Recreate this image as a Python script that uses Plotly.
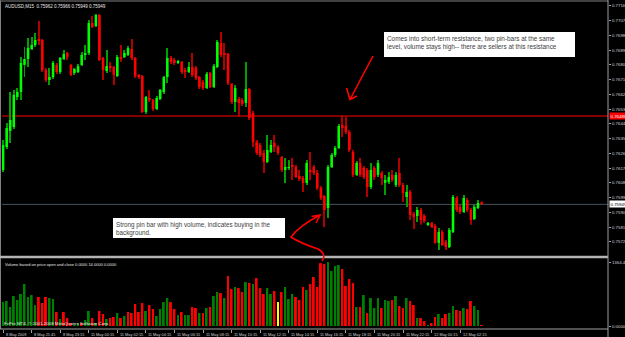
import plotly.graph_objects as go

W, H = 625, 337

title_text = "AUDUSD,M15  0.75962 0.75966 0.75949 0.75949"
volume_title = "Volume based on price open and close 0.0000 14.0000 0.0000"
copyright_text = "FxPro MT4, © 2001-2008 MetaQuotes Software Corp."

opens = [
    0.76159, 0.76299, 0.76397, 0.76421, 0.76604, 0.76635, 0.76800, 0.76836, 0.76897, 0.76922,
    0.76958, 0.76952, 0.76769, 0.76708, 0.76726, 0.76800, 0.76757, 0.76836, 0.76873, 0.76800,
    0.76751, 0.76757, 0.76800, 0.76861, 0.76873, 0.77056, 0.77037, 0.77105, 0.76842, 0.76763,
    0.76793, 0.76787, 0.76732, 0.76848, 0.76848, 0.76861, 0.76897, 0.76842, 0.76739, 0.76732,
    0.76513, 0.76598, 0.76586, 0.76531, 0.76592, 0.76635, 0.76726, 0.76842, 0.76830, 0.76812,
    0.76818, 0.76769, 0.76757, 0.76787, 0.76781, 0.76726, 0.76696, 0.76659, 0.76751, 0.76665,
    0.76787, 0.76934, 0.76873, 0.76867, 0.76684, 0.76574, 0.76592, 0.76586, 0.76568, 0.76653,
    0.76507, 0.76330, 0.76312, 0.76263, 0.76208, 0.76269, 0.76324, 0.76299, 0.76238, 0.76159,
    0.76171, 0.76190, 0.76177, 0.76122, 0.76110, 0.76080, 0.76159, 0.76177, 0.76141, 0.76049,
    0.76000, 0.75927, 0.76177, 0.76251, 0.76293, 0.76434, 0.76427, 0.76391, 0.76269, 0.76129,
    0.76202, 0.76171, 0.76159, 0.76055, 0.76171, 0.76129, 0.76141, 0.76080, 0.76086, 0.76129,
    0.76068, 0.76141, 0.76068, 0.75994, 0.76025, 0.75891, 0.75878, 0.75915, 0.75878, 0.75824,
    0.75836, 0.75817, 0.75714, 0.75781, 0.75720, 0.75689, 0.75781, 0.75988, 0.75933, 0.75903,
    0.75976, 0.75915, 0.75860, 0.75927, 0.75962,
]
highs = [
    0.76342, 0.76446, 0.76635, 0.76647, 0.76659, 0.76848, 0.76909, 0.76964, 0.76970, 0.76995,
    0.77068, 0.76958, 0.76781, 0.76781, 0.76824, 0.76812, 0.76848, 0.76891, 0.76879, 0.76806,
    0.76781, 0.76806, 0.76879, 0.76922, 0.77074, 0.77098, 0.77111, 0.77111, 0.76848, 0.76891,
    0.76818, 0.76793, 0.76861, 0.76922, 0.76891, 0.76915, 0.76958, 0.76848, 0.76745, 0.76739,
    0.76610, 0.76647, 0.76592, 0.76610, 0.76653, 0.76732, 0.76903, 0.76854, 0.76842, 0.76830,
    0.76824, 0.76781, 0.76818, 0.76873, 0.76793, 0.76732, 0.76708, 0.76757, 0.76757, 0.76806,
    0.76952, 0.77001, 0.76934, 0.76873, 0.76690, 0.76678, 0.76604, 0.76598, 0.76818, 0.76659,
    0.76519, 0.76342, 0.76324, 0.76281, 0.76373, 0.76342, 0.76373, 0.76312, 0.76244, 0.76232,
    0.76220, 0.76232, 0.76190, 0.76159, 0.76122, 0.76220, 0.76269, 0.76190, 0.76159, 0.76061,
    0.76007, 0.76190, 0.76263, 0.76305, 0.76440, 0.76495, 0.76482, 0.76403, 0.76281, 0.76214,
    0.76232, 0.76183, 0.76171, 0.76202, 0.76183, 0.76220, 0.76153, 0.76129, 0.76147, 0.76159,
    0.76147, 0.76232, 0.76080, 0.76068, 0.76037, 0.75903, 0.75933, 0.75927, 0.75891, 0.75842,
    0.75842, 0.75830, 0.75805, 0.75793, 0.75732, 0.75805, 0.76007, 0.76000, 0.75946, 0.76007,
    0.75988, 0.75927, 0.75946, 0.75976, 0.75966,
]
lows = [
    0.76147, 0.76287, 0.76324, 0.76409, 0.76586, 0.76586, 0.76726, 0.76787, 0.76891, 0.76909,
    0.76922, 0.76757, 0.76696, 0.76678, 0.76714, 0.76745, 0.76745, 0.76830, 0.76830, 0.76732,
    0.76739, 0.76751, 0.76793, 0.76830, 0.76861, 0.77025, 0.77031, 0.76824, 0.76708, 0.76751,
    0.76757, 0.76678, 0.76726, 0.76818, 0.76842, 0.76854, 0.76830, 0.76720, 0.76714, 0.76507,
    0.76501, 0.76574, 0.76519, 0.76525, 0.76586, 0.76623, 0.76690, 0.76806, 0.76800, 0.76806,
    0.76745, 0.76720, 0.76751, 0.76726, 0.76708, 0.76653, 0.76647, 0.76653, 0.76659, 0.76659,
    0.76781, 0.76848, 0.76769, 0.76678, 0.76562, 0.76513, 0.76482, 0.76549, 0.76543, 0.76464,
    0.76299, 0.76251, 0.76238, 0.76141, 0.76202, 0.76263, 0.76269, 0.76251, 0.76147, 0.76080,
    0.76159, 0.76098, 0.76110, 0.76092, 0.76025, 0.76068, 0.76098, 0.76129, 0.76037, 0.75976,
    0.75811, 0.75866, 0.76171, 0.76238, 0.76287, 0.76360, 0.76379, 0.76269, 0.76116, 0.76122,
    0.76116, 0.76104, 0.75994, 0.76043, 0.76098, 0.76116, 0.76068, 0.76007, 0.76074, 0.76086,
    0.76055, 0.76055, 0.75964, 0.75933, 0.75854, 0.75799, 0.75842, 0.75824, 0.75836, 0.75817,
    0.75805, 0.75708, 0.75671, 0.75695, 0.75671, 0.75683, 0.75775, 0.75903, 0.75891, 0.75897,
    0.75903, 0.75824, 0.75854, 0.75921, 0.75949,
]
closes = [
    0.76311, 0.76415, 0.76464, 0.76617, 0.76635, 0.76812, 0.76836, 0.76903, 0.76922, 0.76952,
    0.76946, 0.76769, 0.76708, 0.76726, 0.76812, 0.76757, 0.76842, 0.76867, 0.76848, 0.76739,
    0.76775, 0.76793, 0.76861, 0.76873, 0.77056, 0.77031, 0.77105, 0.76830, 0.76769, 0.76793,
    0.76787, 0.76739, 0.76848, 0.76842, 0.76873, 0.76903, 0.76842, 0.76732, 0.76726, 0.76513,
    0.76604, 0.76586, 0.76531, 0.76598, 0.76647, 0.76726, 0.76842, 0.76818, 0.76812, 0.76824,
    0.76757, 0.76757, 0.76787, 0.76739, 0.76720, 0.76665, 0.76659, 0.76745, 0.76665, 0.76793,
    0.76940, 0.76861, 0.76861, 0.76690, 0.76574, 0.76659, 0.76568, 0.76562, 0.76653, 0.76476,
    0.76330, 0.76263, 0.76251, 0.76208, 0.76281, 0.76312, 0.76299, 0.76263, 0.76159, 0.76177,
    0.76177, 0.76177, 0.76116, 0.76104, 0.76080, 0.76202, 0.76147, 0.76141, 0.76049, 0.75988,
    0.75915, 0.76177, 0.76251, 0.76293, 0.76427, 0.76415, 0.76391, 0.76281, 0.76129, 0.76202,
    0.76129, 0.76116, 0.76055, 0.76159, 0.76116, 0.76202, 0.76110, 0.76098, 0.76116, 0.76098,
    0.76129, 0.76068, 0.76019, 0.76025, 0.75885, 0.75872, 0.75915, 0.75854, 0.75848, 0.75836,
    0.75811, 0.75714, 0.75781, 0.75702, 0.75689, 0.75793, 0.75994, 0.75915, 0.75903, 0.75988,
    0.75915, 0.75854, 0.75933, 0.75958, 0.75949,
]
volumes = [
    511, 533, 405, 639, 554, 682, 895, 618, 660, 447,
    618, 490, 618, 596, 575, 298, 149, 298, 170, 64,
    21, 64, 64, 128, 320, 170, 64, 320, 256, 149,
    170, 192, 277, 170, 213, 298, 277, 469, 298, 490,
    320, 447, 362, 213, 362, 511, 596, 511, 362, 234,
    298, 234, 234, 405, 383, 277, 277, 383, 405, 639,
    724, 703, 596, 1065, 788, 831, 809, 724, 937, 916,
    895, 1022, 809, 682, 809, 682, 746, 511, 724, 831,
    575, 682, 618, 554, 831, 767, 895, 1044, 831, 1342,
    1321, 1364, 1172, 1278, 1300, 1214, 852, 1001, 916, 405,
    405, 660, 277, 596, 383, 596, 383, 554, 533, 554,
    639, 426, 383, 596, 533, 447, 170, 170, 107, 21,
    64, 192, 256, 170, 256, 277, 426, 341, 320, 383,
    362, 533, 426, 341, 21,
]
# U = close above open, D = close below open, N = unchanged (yellow)
volume_dir = list(
    "UUUUUUUUUU" "DDDUUDUDDD" "UUDUUDUDDU" "DDUDUDDDDD" "UDDUUUUDDU"
    "DUUDDUDUDU" "UDUDDUDDUD" "UDDDUUDNDU" "UUDDDUDDDD" "DUUUUDDDDU"
    "DUDUUUDUUD" "UDDUDDUDDU" "DDUDDUUDDU" "DDUUD"
)
time_labels = [
    "8 May 2009", "8 May 21:45", "8 May 23:15", "11 May 00:15", "11 May 02:15",
    "11 May 04:15", "11 May 06:15", "11 May 08:15", "11 May 10:15", "11 May 12:15",
    "11 May 14:15", "11 May 16:15", "11 May 18:15", "11 May 20:15", "11 May 22:15",
    "12 May 00:15", "12 May 02:15",
]
time_label_bars = [0, 8, 16, 24, 32, 40, 48, 56, 64, 72, 80, 88, 96, 104, 112, 120, 128]
price_ticks = [
    0.77160, 0.77070, 0.76980, 0.76890, 0.76800, 0.76710, 0.76620, 0.76530, 0.76440,
    0.76350, 0.76260, 0.76170, 0.76080, 0.75990, 0.75900, 0.75810, 0.75720, 0.75630,
]
resistance_level = 0.76488
bid_level = 0.75949
volume_max_label = 1364.45

note_top = ("Comes into short-term resistance, two pin-bars at the same<br>"
            "level, volume stays high-- there are sellers at this resistance")
note_bottom = ("Strong pin bar with high volume, indicates buying in the<br>"
               "background.")


def px(x):
    return x / W


def py(y):
    return 1 - y / H


def path(cmds):
    out = []
    for c in cmds:
        if isinstance(c, str):
            out.append(c)
        else:
            out.append(f"{px(c[0]):.5f},{py(c[1]):.5f}")
    return " ".join(out)


n = len(opens)
idx = list(range(n))
up = [c >= o for o, c in zip(opens, closes)]
body_color = ["#00ff00" if u else "#ff0000" for u in up]
wick_color = ["#00a000" if u else "#b00000" for u in up]
body_base = [min(o, c) for o, c in zip(opens, closes)]
body_h = [max(abs(c - o), 0.00004) for o, c in zip(opens, closes)]
wick_h = [h - l for h, l in zip(highs, lows)]
vcol_map = {"U": "#008000", "D": "#ff0000", "N": "#ffff00"}
vol_color = [vcol_map[d] for d in volume_dir]

fig = go.Figure()
fig.add_trace(go.Bar(x=idx, y=wick_h, base=lows, width=0.28,
                     marker=dict(color=wick_color, line=dict(width=0)),
                     xaxis="x", yaxis="y", hoverinfo="skip", showlegend=False))
fig.add_trace(go.Bar(x=idx, y=body_h, base=body_base, width=0.72,
                     marker=dict(color=body_color, line=dict(width=0)),
                     xaxis="x", yaxis="y", hoverinfo="skip", showlegend=False))
fig.add_trace(go.Bar(x=idx, y=volumes, width=0.55,
                     marker=dict(color=vol_color, line=dict(width=0)),
                     xaxis="x2", yaxis="y2", hoverinfo="skip", showlegend=False))

xr = [-0.3, 169.4]
xdom = [px(2), px(608)]
FONT = "Liberation Sans"
small = dict(family=FONT, size=4.4, color="#d0d0d0")

shapes = [
    # horizontal levels
    dict(type="line", xref="paper", yref="y", x0=xdom[0], x1=xdom[1],
         y0=resistance_level, y1=resistance_level, line=dict(color="#800000", width=2), layer="below"),
    dict(type="line", xref="paper", yref="y", x0=xdom[0], x1=xdom[1],
         y0=bid_level, y1=bid_level, line=dict(color="#46525e", width=1), layer="below"),
    # frame
    dict(type="line", xref="paper", yref="paper", x0=px(0.5), x1=px(0.5), y0=py(329), y1=py(0.5),
         line=dict(color="#808080", width=1)),
    dict(type="line", xref="paper", yref="paper", x0=px(0), x1=px(608), y0=py(1), y1=py(1),
         line=dict(color="#808080", width=1)),
    dict(type="line", xref="paper", yref="paper", x0=px(0), x1=px(608), y0=py(257), y1=py(257),
         line=dict(color="#b4b4b4", width=2.5)),
    dict(type="line", xref="paper", yref="paper", x0=px(0), x1=px(608), y0=py(329), y1=py(329),
         line=dict(color="#a0a0a0", width=1)),
    dict(type="line", xref="paper", yref="paper", x0=px(608), x1=px(608), y0=py(337), y1=py(0),
         line=dict(color="#a0a0a0", width=1)),
    # note boxes
    dict(type="rect", xref="paper", yref="paper", x0=px(384), x1=px(575), y0=py(57), y1=py(32),
         fillcolor="#ffffff", line=dict(width=0), layer="above"),
    dict(type="rect", xref="paper", yref="paper", x0=px(113), x1=px(285), y0=py(238), y1=py(218),
         fillcolor="#ffffff", line=dict(width=0), layer="above"),
    # arrows
    dict(type="path", xref="paper", yref="paper",
         path=path(["M", (373, 56), "L", (350, 99.5), "M", (346.5, 88), "L", (350, 99.5), "L", (357, 96)]),
         line=dict(color="#ff0000", width=1.6)),
    dict(type="path", xref="paper", yref="paper",
         path=path(["M", (322, 261), "Q", (327, 254), (318, 249), "Q", (300, 243), (291, 237),
                    "Q", (299, 226), (320, 215), "M", (311.5, 216.5), "L", (320, 215), "L", (316, 223)]),
         line=dict(color="#ff0000", width=1.6)),
]

annotations = [
    dict(xref="paper", yref="paper", x=px(3), y=py(2), text=title_text, showarrow=False,
         xanchor="left", yanchor="top", font=dict(family=FONT, size=4.5, color="#e8e8e8")),
    dict(xref="paper", yref="paper", x=px(3), y=py(259.5), text=volume_title, showarrow=False,
         xanchor="left", yanchor="top", font=dict(family=FONT, size=4.0, color="#e8e8e8")),
    dict(xref="paper", yref="paper", x=px(2), y=py(328), text=copyright_text, showarrow=False,
         xanchor="left", yanchor="bottom", font=dict(family=FONT, size=4.4, color="#e8e8e8")),
    dict(xref="paper", yref="paper", x=px(384.5), y=py(32.5), text=note_top, showarrow=False,
         xanchor="left", yanchor="top", align="left",
         font=dict(family=FONT, size=6.4, color="#404040")),
    dict(xref="paper", yref="paper", x=px(113.5), y=py(218.5), text=note_bottom, showarrow=False,
         xanchor="left", yanchor="top", align="left",
         font=dict(family=FONT, size=6.3, color="#404040")),
    dict(xref="paper", yref="y", x=px(609), y=resistance_level, text=f"{resistance_level:.5f}",
         showarrow=False, xanchor="left", yanchor="middle", bgcolor="#ff0000", borderpad=0.5,
         font=dict(family=FONT, size=4.4, color="#ffffff")),
    dict(xref="paper", yref="y", x=px(609), y=bid_level, text=f"{bid_level:.5f}",
         showarrow=False, xanchor="left", yanchor="middle", bgcolor="#ffffff", borderpad=0.5,
         font=dict(family=FONT, size=4.4, color="#000000")),
]
for b, lab in zip(time_label_bars, time_labels):
    annotations.append(dict(xref="x2", yref="paper", x=b, y=py(330), text=lab, showarrow=False,
                            xanchor="left", yanchor="top", xshift=0.5,
                            font=dict(family=FONT, size=3.9, color="#d0d0d0")))

fig.update_layout(
    template="none",
    width=W, height=H,
    margin=dict(l=0, r=0, t=0, b=0),
    paper_bgcolor="#000000", plot_bgcolor="#000000",
    barmode="overlay", showlegend=False,
    xaxis=dict(domain=xdom, range=xr, anchor="y", showticklabels=False, showgrid=False,
               zeroline=False, showline=False, ticks="", automargin=False, fixedrange=True),
    xaxis2=dict(domain=xdom, range=xr, anchor="y2", showticklabels=False, showgrid=False,
                zeroline=False, showline=False, ticks="outside", ticklen=3, tickcolor="#a0a0a0",
                tickvals=time_label_bars, automargin=False),
    yaxis=dict(domain=[py(256), py(2)], range=[0.75634, 0.77184], anchor="x", side="right",
               tickvals=price_ticks, ticktext=[f"{v:.5f}" for v in price_ticks],
               ticks="outside", ticklen=2, tickcolor="#a0a0a0", tickfont=small,
               showgrid=False, zeroline=False, showline=False, automargin=False),
    yaxis2=dict(domain=[py(329), py(258)], range=[-64, 1450], anchor="x2", side="right",
                tickvals=[volume_max_label, 0], ticktext=[f"{volume_max_label:.2f}", "0.0000"],
                ticks="outside", ticklen=2, tickcolor="#a0a0a0", tickfont=small,
                showgrid=False, zeroline=False, showline=False, automargin=False),
    shapes=shapes,
    annotations=annotations,
)

fig.write_html("out.html")
